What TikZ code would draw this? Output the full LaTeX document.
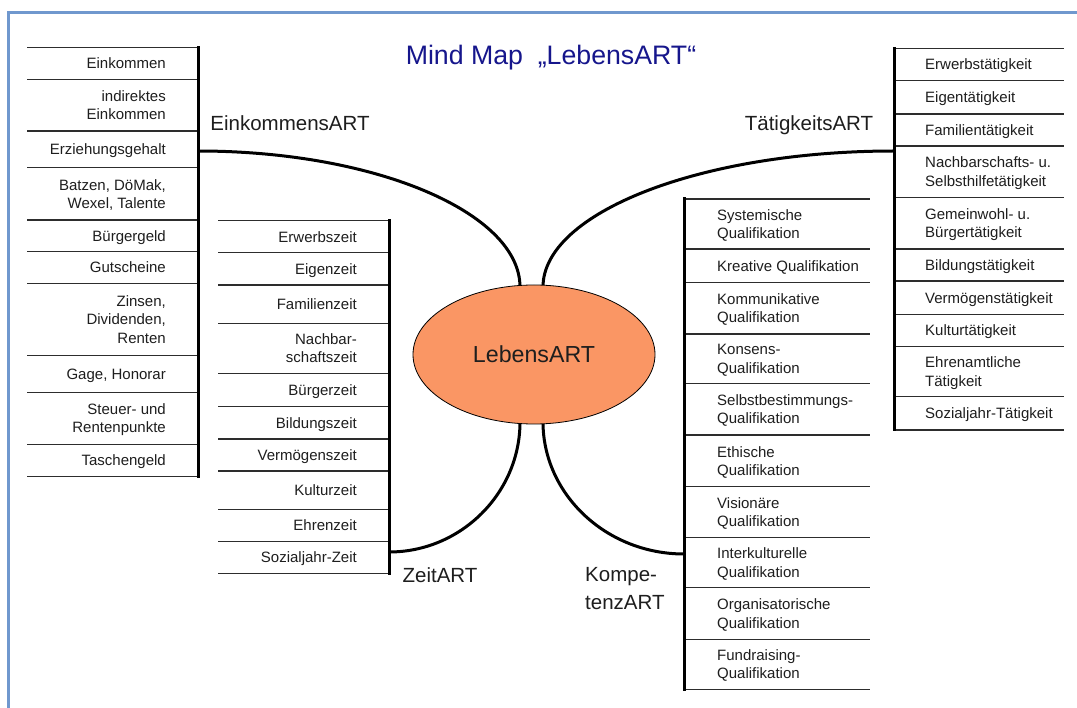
\documentclass[tikz,border=0pt]{standalone}
\usepackage{fontspec}
\setmainfont{Liberation Sans}
\usetikzlibrary{shapes.geometric}
\definecolor{frameblue}{RGB}{112,152,206}
\definecolor{titleblue}{RGB}{22,22,140}
\definecolor{corefill}{RGB}{250,150,100}
\definecolor{inkgray}{RGB}{30,30,30}
\definecolor{rulegray}{RGB}{45,45,45}
\tikzset{
  itembase/.style={inner sep=0pt, text=inkgray,
    font=\fontsize{15}{18.3}\selectfont, text height=10.7pt, text depth=0pt},
  itemR/.style={itembase, anchor=east, align=right},
  itemL/.style={itembase, anchor=west, align=left},
  twolines/.style={text height=29pt},
  threelines/.style={text height=47.3pt},
  branchlabel/.style={inner sep=0pt, text=inkgray, font=\fontsize{20.5}{28}\selectfont},
  rowrule/.style={draw=rulegray, line width=1.3pt},
  bar/.style={draw=black, line width=3pt},
  branch/.style={draw=black, line width=3pt},
}
\begin{document}
\begin{tikzpicture}[x=1pt,y=-1pt]
\useasboundingbox (0,0) rectangle (1077,708);
\fill[white] (0,0) rectangle (1077,708);
% frame
\draw[frameblue, line width=3pt] (8,708) -- (8,13) -- (1077,13);
% title
\node[text=titleblue, font=\fontsize{26.7}{30}\selectfont, inner sep=0pt] (title) at (551,58) {Mind Map\ \ „LebensART“};

% ---------- EinkommensART list ----------
\foreach \yy in {47.7,79.3,131,167.7,220,251.7,283.3,355.7,392.7,444.3,476.7}
  \draw[rowrule] (27,\yy) -- (198,\yy);
\draw[bar] (198,46.5) coordinate (etop) -- (198,478) coordinate (ebot);
\node[itemR] (e1) at (166,63.5) {Einkommen};
\node[itemR, twolines] (e2) at (166,105.2) {indirektes\\Einkommen};
\node[itemR] (e3) at (166,149.3) {Erziehungsgehalt};
\node[itemR, twolines] (e4) at (166,193.9) {Batzen,\ DöMak,\\Wexel, Talente};
\node[itemR] (e5) at (166,235.9) {Bürgergeld};
\node[itemR] (e6) at (166,267.5) {Gutscheine};
\node[itemR, threelines] (e7) at (166,319.5) {Zinsen,\\Dividenden,\\Renten};
\node[itemR] (e8) at (166,374.2) {Gage, Honorar};
\node[itemR, twolines] (e9) at (166,418.5) {Steuer-\ und\\Rentenpunkte};
\node[itemR] (e10) at (166,460.5) {Taschengeld};

% ---------- ZeitART list ----------
\foreach \yy in {220.7,252.7,285,323.3,373.3,406.7,439,471,509.3,541.7,573.3}
  \draw[rowrule] (218,\yy) -- (389,\yy);
\draw[bar] (389,219.5) coordinate (ztop) -- (389,575) coordinate (zbot);
\node[itemR] (z1) at (357,236.7) {Erwerbszeit};
\node[itemR] (z2) at (357,268.9) {Eigenzeit};
\node[itemR] (z3) at (357,304.2) {Familienzeit};
\node[itemR, twolines] (z4) at (357,348.3) {Nachbar-\\schaftszeit};
\node[itemR] (z5) at (357,390) {Bürgerzeit};
\node[itemR] (z6) at (357,422.9) {Bildungszeit};
\node[itemR] (z7) at (357,455) {Vermögenszeit};
\node[itemR] (z8) at (357,490.2) {Kulturzeit};
\node[itemR] (z9) at (357,525.5) {Ehrenzeit};
\node[itemR] (z10) at (357,557.5) {Sozialjahr-Zeit};

% ---------- TätigkeitsART list ----------
\foreach \yy in {48.3,80.7,114,146,197.3,249,281,314.3,346.7,396.7,430}
  \draw[rowrule] (894,\yy) -- (1064,\yy);
\draw[bar] (894,47) coordinate (ttop) -- (894,431.5) coordinate (tbot);
\node[itemL] (t1) at (925,64.5) {Erwerbstätigkeit};
\node[itemL] (t2) at (925,97.4) {Eigentätigkeit};
\node[itemL] (t3) at (925,130) {Familientätigkeit};
\node[itemL, twolines] (t4) at (925,171.7) {Nachbarschafts-\ u.\\Selbsthilfetätigkeit};
\node[itemL, twolines] (t5) at (925,223.2) {Gemeinwohl-\ u.\\Bürgertätigkeit};
\node[itemL] (t6) at (925,265) {Bildungstätigkeit};
\node[itemL] (t7) at (925,297.7) {Vermögenstätigkeit};
\node[itemL] (t8) at (925,330.5) {Kulturtätigkeit};
\node[itemL, twolines] (t9) at (925,371.7) {Ehrenamtliche\\Tätigkeit};
\node[itemL] (t10) at (925,413.4) {Sozialjahr-Tätigkeit};

% ---------- KompetenzART list ----------
\foreach \yy in {199,249,282.3,334,383.3,435,486.7,537.7,587.7,639.3,689.3}
  \draw[rowrule] (684,\yy) -- (870,\yy);
\draw[bar] (684,197.5) coordinate (ktop) -- (684,691) coordinate (kbot);
\node[itemL, twolines] (k1) at (717,224) {Systemische\\Qualifikation};
\node[itemL] (k2) at (717,265.7) {Kreative Qualifikation};
\node[itemL, twolines] (k3) at (717,308.2) {Kommunikative\\Qualifikation};
\node[itemL, twolines] (k4) at (717,358.7) {Konsens-\\Qualifikation};
\node[itemL, twolines] (k5) at (717,409.2) {Selbstbestimmungs-\\Qualifikation};
\node[itemL, twolines] (k6) at (717,460.9) {Ethische\\Qualifikation};
\node[itemL, twolines] (k7) at (717,512.2) {Visionäre\\Qualifikation};
\node[itemL, twolines] (k8) at (717,562.7) {Interkulturelle\\Qualifikation};
\node[itemL, twolines] (k9) at (717,613.5) {Organisatorische\\Qualifikation};
\node[itemL, twolines] (k10) at (717,664.3) {Fundraising-\\Qualifikation};

% ---------- branch labels ----------
\node[branchlabel] (lein) at (290,123) {EinkommensART};
\node[branchlabel] (ltae) at (809,125) {TätigkeitsART};
\node[branchlabel] (lzeit) at (440,575) {ZeitART};
\node[branchlabel, align=left, anchor=west] (lkomp) at (585,589) {Kompe-\\tenzART};

% ---------- branches ----------
\coordinate (ebar) at (198,151);
\coordinate (tbar) at (894,151);
\coordinate (zbar) at (389,552);
\coordinate (kbar) at (684,554);
\coordinate (cul) at (520,287);
\coordinate (cur) at (543,287);
\coordinate (cll) at (520,422);
\coordinate (clr) at (543,422);
\draw[branch] (ebar) .. controls +(178,0) and +(0,-74) .. (cul);
\draw[branch] (tbar) .. controls +(-194,0) and +(0,-74) .. (cur);
\draw[branch] (zbar) .. controls +(72,0) and +(0,71) .. (cll);
\draw[branch] (kbar) .. controls +(-78,0) and +(0,72) .. (clr);

% ---------- centre ----------
\node[ellipse, draw=black, line width=0.8pt, fill=corefill, minimum width=242pt,
  minimum height=139pt, inner sep=0pt, text=inkgray,
  font=\fontsize{23.2}{26}\selectfont] (core) at (534,354.5) {LebensART};
\end{tikzpicture}
\end{document}
